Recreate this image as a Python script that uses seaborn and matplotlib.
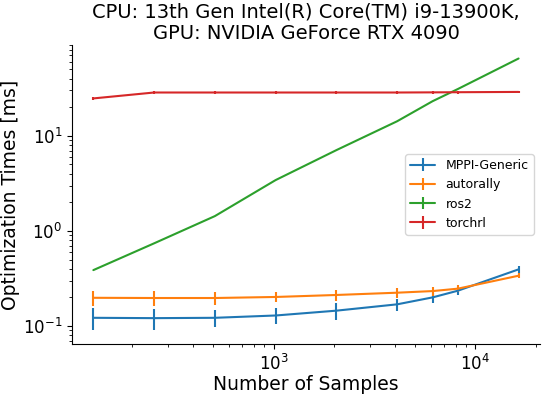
import numpy as np
import pandas as pd
import matplotlib
matplotlib.use("Agg")
import matplotlib.pyplot as plt
import seaborn as sns

# === DATA ===
num_samples = [128, 256, 512, 1024, 2048, 4096, 6144, 8192, 16384]

mppi_mean = [0.122, 0.121, 0.122, 0.129, 0.145, 0.169, 0.200, 0.235, 0.394]
mppi_std = [0.032, 0.030, 0.025, 0.024, 0.030, 0.025, 0.025, 0.025, 0.030]

autorally_mean = [0.198, 0.197, 0.197, 0.202, 0.212, 0.224, 0.233, 0.247, 0.338]
autorally_std = [0.036, 0.035, 0.030, 0.025, 0.030, 0.025, 0.025, 0.020, 0.020]

ros2_mean = [0.387, 0.74, 1.43, 3.42, 7.06, 14.2, 23.1, 31.0, 64.9]
ros2_std = [0.0, 0.0, 0.0, 0.0, 0.0, 0.0, 0.0, 0.0, 0.0]

torchrl_mean = [24.7, 28.5, 28.5, 28.5, 28.5, 28.5, 28.6, 28.7, 28.9]
torchrl_std = [1.0, 1.0, 1.0, 1.0, 1.0, 1.0, 1.0, 1.0, 1.0]

series_names = ["MPPI-Generic", "autorally", "ros2", "torchrl"]
means = [mppi_mean, autorally_mean, ros2_mean, torchrl_mean]
stds = [mppi_std, autorally_std, ros2_std, torchrl_std]

# === Plotting ===
sns.set_style("ticks")
plt.rcParams["font.family"] = ["DejaVu Sans"]
plt.rcParams.update({
    "text.color": "black",
    "axes.labelcolor": "black",
    "axes.edgecolor": "black",
    "xtick.color": "black",
    "ytick.color": "black",
})
palette = sns.color_palette("tab10", len(series_names))

fig = plt.figure(figsize=(5.42, 3.94), dpi=100)
ax = fig.add_axes([0.133, 0.127, 0.863, 0.759])

for name, m, s, c in zip(series_names, means, stds, palette):
    ax.errorbar(num_samples, m, yerr=s, label=name, color=c, lw=1.5)

ax.set_xscale("log")
ax.set_yscale("log")
ax.tick_params(labelsize=12)
ax.set_xlabel("Number of Samples", fontsize=13.5, labelpad=1)
ax.set_ylabel("Optimization Times [ms]", fontsize=13.5, labelpad=2)
ax.set_title("CPU: 13th Gen Intel(R) Core(TM) i9-13900K,\nGPU: NVIDIA GeForce RTX 4090",
             fontsize=14, pad=4)
ax.legend(loc="center right", fontsize=9)
sns.despine(ax=ax)

fig.savefig("out.png", dpi=100)
